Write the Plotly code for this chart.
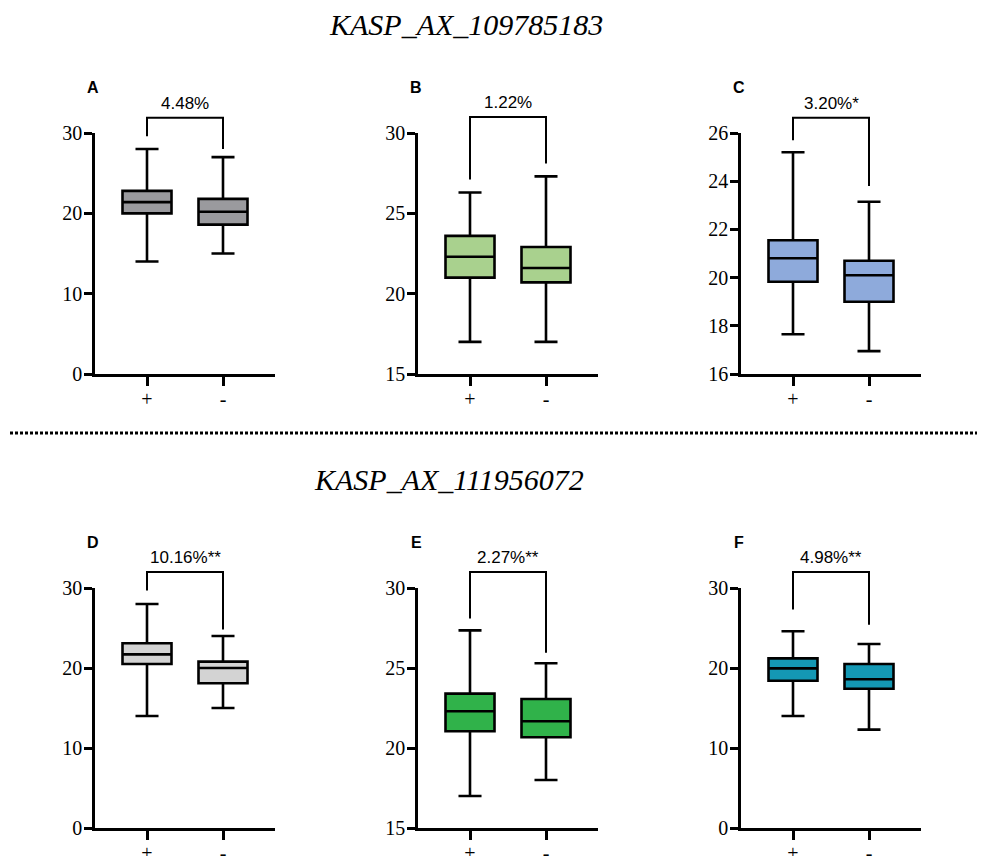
import plotly.graph_objects as go

# ---------------- data ----------------
panel_letters = ["A", "B", "C", "D", "E", "F"]
groups = ["+", "-"]
titles = ["KASP_AX_109785183", "KASP_AX_111956072"]

q1_vals = [[20.0, 18.6], [21.0, 20.7], [19.83, 19.0], [20.5, 18.1], [21.05, 20.67], [18.4, 17.4]]
median_vals = [[21.4, 20.2], [22.3, 21.6], [20.8, 20.1], [21.7, 20.0], [22.3, 21.67], [19.95, 18.6]]
q3_vals = [[22.8, 21.8], [23.6, 22.9], [21.55, 20.7], [23.1, 20.8], [23.4, 23.06], [21.2, 20.5]]
low_vals = [[14.0, 15.0], [17.0, 17.0], [17.65, 16.95], [14.0, 15.0], [17.0, 18.0], [14.0, 12.3]]
high_vals = [[28.0, 27.0], [26.3, 27.3], [25.2, 23.15], [28.0, 24.0], [27.35, 25.3], [24.6, 23.0]]

y_ranges = [[0, 30], [15, 30], [16, 26], [0, 30], [15, 30], [0, 30]]
y_ticks = [[0, 10, 20, 30], [15, 20, 25, 30], [16, 18, 20, 22, 24, 26],
           [0, 10, 20, 30], [15, 20, 25, 30], [0, 10, 20, 30]]

diff_labels = ["4.48%", "1.22%", "3.20%*", "10.16%**", "2.27%**", "4.98%**"]
bracket_top = [31.9, 31.0, 26.63, 32.0, 31.0, 32.0]
bracket_left = [29.6, 27.1, 25.7, 29.7, 28.1, 27.3]
bracket_right = [28.0, 28.1, 23.8, 24.8, 25.95, 25.4]

fill_colors = ["#9a9a9e", "#a9d18e", "#8eaadb", "#d3d3d3", "#30b24a", "#1498b4"]

# ---------------- layout geometry (window pixels) ----------------
W, H = 985, 856
OFF = 8  # page body margin offset
col_x0 = [95, 418, 741]
axis_len = 180
cat_off = (52, 128)
rows = [(133, 374), (588, 828)]
ext_top = [98, 553]


def px(x):
    return (x - OFF) / W


def py(y):
    return 1 - (y - OFF) / H


step = cat_off[1] - cat_off[0]
x_range = [-cat_off[0] / step, (axis_len - cat_off[0]) / step]
box_width = 49 / step

fig = go.Figure()
layout = dict(
    width=W, height=H, margin=dict(l=0, r=0, t=0, b=0, pad=0, autoexpand=False),
    autosize=False,
    paper_bgcolor="white", plot_bgcolor="rgba(0,0,0,0)",
    showlegend=False, annotations=[], shapes=[],
)

serif = "Liberation Serif, Times New Roman, serif"
sans = "Liberation Sans, Arial, sans-serif"

for i in range(6):
    r, c = divmod(i, 3)
    x0 = col_x0[c]
    top, bot = rows[r]
    n = i + 1
    nb = i + 7
    lo, hi = y_ranges[i]

    fig.add_trace(go.Box(
        x=groups, q1=q1_vals[i], median=median_vals[i], q3=q3_vals[i],
        lowerfence=low_vals[i], upperfence=high_vals[i],
        width=box_width, whiskerwidth=0.47, fillcolor=fill_colors[i],
        line=dict(color="black", width=2.6), boxpoints=False,
        xaxis="x%d" % n, yaxis="y%d" % n, hoverinfo="skip",
    ))

    dom_x = [px(x0), px(x0 + axis_len)]
    layout["xaxis%d" % n] = dict(
        domain=dom_x, anchor="y%d" % n, type="category", categoryarray=groups,
        categoryorder="array", range=x_range, showgrid=False, zeroline=False,
        showline=True, linecolor="black", linewidth=2.5, automargin=False,
        ticks="outside", ticklen=9, tickwidth=2.5, tickcolor="black",
        ticklabelstandoff=-4,
        tickfont=dict(family=serif, size=20, color="black"),
    )
    layout["yaxis%d" % n] = dict(
        domain=[py(bot), py(top)], anchor="x%d" % n, range=[lo, hi],
        tickvals=y_ticks[i], showgrid=False, zeroline=False,
        showline=True, linecolor="black", linewidth=2.5, automargin=False,
        ticks="outside", ticklen=8, tickwidth=2.5, tickcolor="black",
        ticklabelstandoff=-2,
        tickfont=dict(family=serif, size=20, color="black"),
    )

    # bracket subplot sharing the same scale but taller
    ext_hi = lo + (hi - lo) * (bot - ext_top[r]) / (bot - top)
    layout["xaxis%d" % nb] = dict(domain=dom_x, anchor="y%d" % nb, range=x_range,
                                  visible=False, fixedrange=True, automargin=False)
    layout["yaxis%d" % nb] = dict(domain=[py(bot), py(ext_top[r])], anchor="x%d" % nb,
                                  range=[lo, ext_hi], visible=False, fixedrange=True,
                                  automargin=False)
    fig.add_trace(go.Scatter(
        x=[0, 0, 1, 1],
        y=[bracket_left[i], bracket_top[i], bracket_top[i], bracket_right[i]],
        mode="lines", line=dict(color="black", width=2),
        xaxis="x%d" % nb, yaxis="y%d" % nb, hoverinfo="skip",
    ))
    layout["annotations"].append(dict(
        xref="x%d" % nb, yref="y%d" % nb, x=0.5, y=bracket_top[i],
        text=diff_labels[i], showarrow=False, yanchor="bottom", yshift=3,
        font=dict(family=sans, size=17, color="black"),
    ))

    # panel letter
    layout["annotations"].append(dict(
        xref="paper", yref="paper", x=px(x0 - 2), y=py(87 + 455 * r),
        text="<b>%s</b>" % panel_letters[i], showarrow=False,
        xanchor="center", yanchor="middle",
        font=dict(family=sans, size=16, color="black"),
    ))

# titles
for r, (tx, ty) in enumerate([(466, 25), (449, 479)]):
    layout["annotations"].append(dict(
        xref="paper", yref="paper", x=px(tx), y=py(ty), text="<i>%s</i>" % titles[r],
        showarrow=False, xanchor="center", yanchor="middle",
        font=dict(family=serif, size=30, color="black"),
    ))

# dotted separator
layout["shapes"].append(dict(
    type="line", xref="paper", yref="paper", x0=px(5), x1=1, y0=py(433), y1=py(433),
    line=dict(color="black", width=3, dash="3px,2px"),
))

fig.update_layout(**layout)
fig.write_html("out.html")
